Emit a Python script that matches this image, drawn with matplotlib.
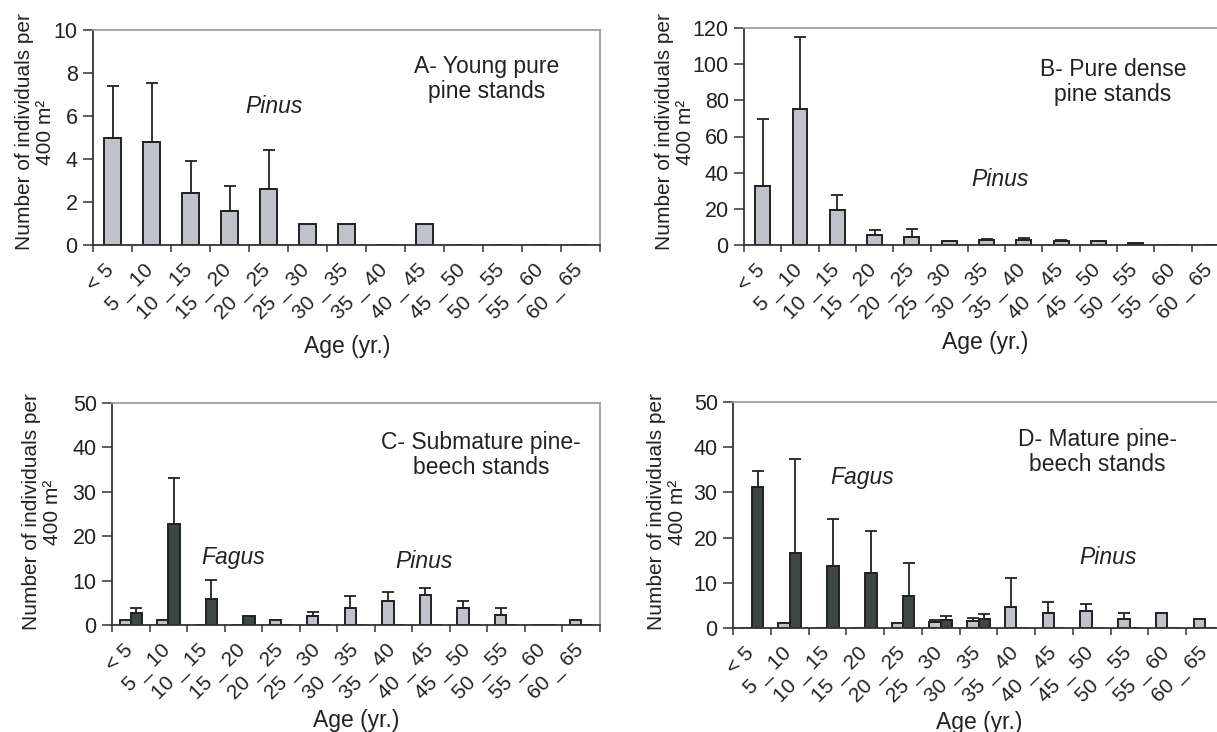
import numpy as np
import matplotlib
matplotlib.use("Agg")
import matplotlib.pyplot as plt

plt.rcParams['font.family'] = ['Liberation Sans', 'DejaVu Sans']

# age classes
ages = ['< 5', '5 _ 10', '10 _ 15', '15 _ 20', '20 _ 25', '25 _ 30', '30 _ 35',
        '35 _ 40', '40 _ 45', '45 _ 50', '50 _ 55', '55 _ 60', '60 _ 65']

# A - young pure pine stands (Pinus only)
a_pinus = [5.0, 4.8, 2.4, 1.6, 2.6, 1.0, 1.0, 0, 1.0, 0, 0, 0, 0]
a_pinus_err = [2.4, 2.75, 1.5, 1.15, 1.8, 0, 0, 0, 0, 0, 0, 0, 0]

# B - pure dense pine stands (Pinus only)
b_pinus = [32.4, 75.3, 19.5, 5.3, 4.6, 2.0, 2.9, 2.6, 2.0, 2.4, 1.3, 0, 0]
b_pinus_err = [37.4, 39.8, 8.3, 3.2, 4.2, 0.4, 0.6, 1.4, 0.6, 0, 0, 0, 0]

# C - submature pine-beech stands
c_pinus = [1.1, 1.1, 0, 0, 1.1, 2.1, 3.8, 5.3, 6.8, 3.8, 2.3, 0, 1.1]
c_pinus_err = [0, 0, 0, 0, 0, 0.8, 2.8, 2.1, 1.6, 1.5, 1.6, 0, 0]
c_fagus = [2.6, 22.8, 5.8, 2.1, 0, 0, 0, 0, 0, 0, 0, 0, 0]
c_fagus_err = [1.2, 10.2, 4.4, 0, 0, 0, 0, 0, 0, 0, 0, 0, 0]

# D - mature pine-beech stands
d_pinus = [0, 1.0, 0, 0, 1.0, 1.25, 1.55, 4.6, 3.4, 3.8, 2.1, 3.4, 2.0]
d_pinus_err = [0, 0, 0, 0, 0, 0.55, 0.65, 6.4, 2.35, 1.4, 1.2, 0, 0]
d_fagus = [31.2, 16.6, 13.8, 12.1, 7.1, 1.7, 2.1, 0, 0, 0, 0, 0, 0]
d_fagus_err = [3.5, 20.9, 10.3, 9.4, 7.3, 0.9, 1.1, 0, 0, 0, 0, 0, 0]

LIGHT = '#c0c2c9'
DARK = '#3e4646'
EDGE = '#222222'
TXT = '#222222'
FS = 15.5
FS_X = 15
FS_NOTE = 16.5

fig = plt.figure(figsize=(12.17, 7.32), dpi=100)
W, H = 1217, 732


def px_axes(l, t, r, b):
    return fig.add_axes([l / W, 1 - b / H, (r - l) / W, (b - t) / H])


def bars(ax, x, vals, errs, color, width):
    vals = np.array(vals, dtype=float)
    errs = np.array(errs, dtype=float)
    ax.bar(x, vals, width=width, color=color, edgecolor=EDGE, linewidth=1.4, zorder=2)
    m = errs > 0
    ax.errorbar(x[m], vals[m], yerr=[np.zeros(m.sum()), errs[m]], fmt='none',
                ecolor=EDGE, elinewidth=1.3, capsize=4.5, capthick=1.3, zorder=3)


def style(ax, ymax, ystep):
    n = len(ages)
    ax.set_xlim(-0.5, n - 0.5)
    ax.set_ylim(0, ymax)
    ax.set_yticks(np.arange(0, ymax + 0.1, ystep))
    ax.set_xticks(np.arange(-0.5, n, 1.0))
    ax.set_xticklabels([])
    # rotated labels end a little left of the category centre
    ax.set_xticks(np.arange(n) - 0.2, minor=True)
    ax.set_xticklabels(ages, minor=True, rotation=45, ha='right', va='top',
                       rotation_mode='anchor', fontsize=FS_X, color=TXT)
    ax.tick_params(axis='x', which='minor', length=0, pad=11)
    ax.tick_params(axis='x', which='major', length=5, width=1.1, color='#333333', direction='out')
    ax.tick_params(axis='y', length=7, width=1.1, color='#333333', direction='out',
                   labelsize=FS, labelcolor=TXT, pad=4)
    for s in ['left', 'bottom']:
        ax.spines[s].set_color('#333333')
        ax.spines[s].set_linewidth(1.3)
    for s in ['top', 'right']:
        ax.spines[s].set_color('#9a9ea4')
        ax.spines[s].set_linewidth(1.3)
    ax.set_facecolor('white')


def note(ax, fx, fy, s, italic=False):
    ax.text(fx, fy, s, transform=ax.transAxes, ha='center', va='center',
            fontsize=FS_NOTE, color=TXT, linespacing=1.15,
            style='italic' if italic else 'normal')


x = np.arange(len(ages))
ylab = 'Number of individuals per\n400 m²'

# panel A
axA = px_axes(93, 30, 600, 245)
bars(axA, x, a_pinus, a_pinus_err, LIGHT, 0.42)
style(axA, 10, 2)
note(axA, 0.777, 0.772, 'A- Young pure\npine stands')
note(axA, 0.357, 0.642, 'Pinus', True)

# panel B
axB = px_axes(744, 28, 1229, 245)
bars(axB, x, b_pinus, b_pinus_err, LIGHT, 0.4)
style(axB, 120, 20)
note(axB, 0.761, 0.751, 'B- Pure dense\npine stands')
note(axB, 0.528, 0.304, 'Pinus', True)

# panel C
axC = px_axes(112, 403, 600, 625)
bars(axC, x - 0.15, c_pinus, c_pinus_err, LIGHT, 0.3)
bars(axC, x + 0.15, c_fagus, c_fagus_err, DARK, 0.3)
style(axC, 50, 10)
note(axC, 0.756, 0.766, 'C- Submature pine-\nbeech stands')
note(axC, 0.248, 0.306, 'Fagus', True)
note(axC, 0.639, 0.284, 'Pinus', True)

# panel D
axD = px_axes(733, 402, 1224, 628)
bars(axD, x - 0.15, d_pinus, d_pinus_err, LIGHT, 0.3)
bars(axD, x + 0.15, d_fagus, d_fagus_err, DARK, 0.3)
style(axD, 50, 10)
note(axD, 0.742, 0.779, 'D- Mature pine-\nbeech stands')
note(axD, 0.263, 0.668, 'Fagus', True)
note(axD, 0.764, 0.314, 'Pinus', True)

# axis titles placed in pixel positions
for cx, cy in [(35, 132), (675, 132), (42, 512), (667, 512)]:
    fig.text(cx / W, 1 - cy / H, ylab, rotation=90, ha='center', va='center',
             multialignment='center', fontsize=15, color=TXT, linespacing=1.1)
for cx, cy in [(347, 347), (985, 343), (356, 721), (979, 722)]:
    fig.text(cx / W, 1 - cy / H, 'Age (yr.)', ha='center', va='center',
             fontsize=FS_NOTE, color=TXT)

fig.savefig('out.png', dpi=100, facecolor='white')
